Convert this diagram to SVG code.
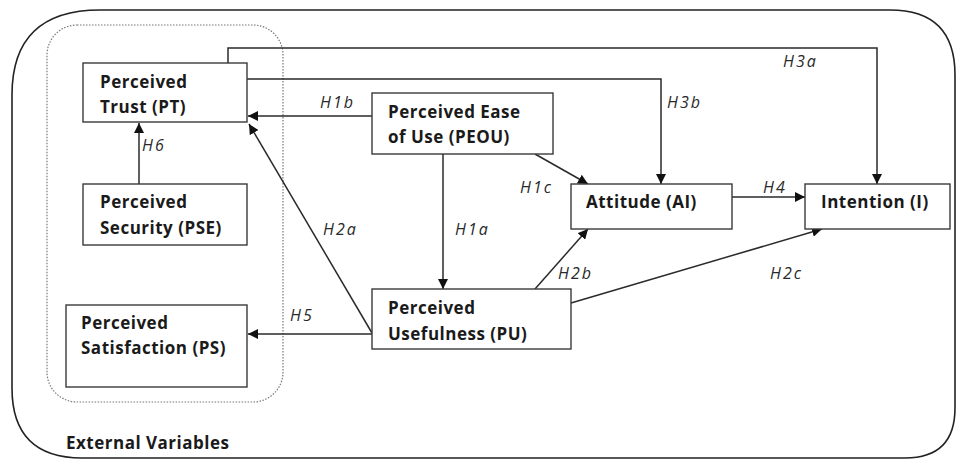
<svg xmlns="http://www.w3.org/2000/svg" width="957" height="460" viewBox="0 0 957 460">
  <style>
    .box { fill: #ffffff; stroke: #3a3a3a; stroke-width: 1.4; }
    .lbl { font-family: "Open Sans", "Liberation Sans", sans-serif; font-weight: bold; font-size: 17px; letter-spacing: 0.5px; fill: #1a1a1a; }
    .hyp { font-family: "Open Sans", "Liberation Sans", sans-serif; font-style: italic; font-size: 16px; letter-spacing: 2px; fill: #2a2a2a; }
    .con { fill: none; stroke: #2a2a2a; stroke-width: 1.5; }
  </style>
  <defs>
    <marker id="arrow" viewBox="0 0 10 10" refX="10" refY="5" markerWidth="10" markerHeight="10" markerUnits="userSpaceOnUse" orient="auto">
      <path d="M0,0 L10,5 L0,10 Z" fill="#111111"/>
    </marker>
  </defs>
  <rect width="957" height="460" fill="#ffffff"/>

  <!-- outer frame: external variables boundary -->
  <path d="M100,10 L890,10 Q955,10 955,75 L955,408 Q955,458 905,458 L82,458 Q12,458 12,388 L12,95 Q12,10 100,10 Z" fill="none" stroke="#222222" stroke-width="1.6"/>
  <!-- dotted grouping of trust-related constructs -->
  <rect x="47" y="25" width="236" height="377" rx="30" ry="30" fill="none" stroke="#777777" stroke-width="1.2" stroke-dasharray="1.5 1.5"/>
  <text class="lbl" x="66" y="449">External Variables</text>

  <g id="connectors">
    <polyline class="con" points="228,63 228,48 877,48 877,184" marker-end="url(#arrow)"/>
    <polyline class="con" points="247,79 661,79 661,184" marker-end="url(#arrow)"/>
    <line class="con" x1="372" y1="116" x2="248" y2="116" marker-end="url(#arrow)"/>
    <line class="con" x1="139" y1="184" x2="139" y2="123" marker-end="url(#arrow)"/>
    <line class="con" x1="372" y1="333" x2="249" y2="124" marker-end="url(#arrow)"/>
    <line class="con" x1="372" y1="334" x2="248" y2="334" marker-end="url(#arrow)"/>
    <line class="con" x1="443" y1="154" x2="443" y2="289" marker-end="url(#arrow)"/>
    <line class="con" x1="535" y1="154" x2="588" y2="184" marker-end="url(#arrow)"/>
    <line class="con" x1="535" y1="289" x2="588" y2="229" marker-end="url(#arrow)"/>
    <line class="con" x1="571" y1="303" x2="822" y2="229" marker-end="url(#arrow)"/>
    <line class="con" x1="732" y1="197" x2="805" y2="197" marker-end="url(#arrow)"/>

    <text class="hyp" x="783" y="67">H3a</text>
    <text class="hyp" x="667" y="108">H3b</text>
    <text class="hyp" x="320" y="108">H1b</text>
    <text class="hyp" x="142" y="151">H6</text>
    <text class="hyp" x="520" y="193">H1c</text>
    <text class="hyp" x="763" y="193">H4</text>
    <text class="hyp" x="323" y="235">H2a</text>
    <text class="hyp" x="455" y="235">H1a</text>
    <text class="hyp" x="558" y="279">H2b</text>
    <text class="hyp" x="770" y="279">H2c</text>
    <text class="hyp" x="290" y="321">H5</text>
  </g>

  <g id="PT">
    <rect class="box" x="83" y="63" width="164" height="59"/>
    <text class="lbl" x="100" y="88">Perceived</text>
    <text class="lbl" x="100" y="113">Trust (PT)</text>
  </g>
  <g id="PSE">
    <rect class="box" x="83" y="184" width="164" height="61"/>
    <text class="lbl" x="100" y="208">Perceived</text>
    <text class="lbl" x="100" y="234">Security (PSE)</text>
  </g>
  <g id="PS">
    <rect class="box" x="66" y="305" width="181" height="82"/>
    <text class="lbl" x="81" y="329">Perceived</text>
    <text class="lbl" x="81" y="354">Satisfaction (PS)</text>
  </g>
  <g id="PEOU">
    <rect class="box" x="372" y="93" width="181" height="61"/>
    <text class="lbl" x="388" y="118">Perceived Ease</text>
    <text class="lbl" x="388" y="143">of Use (PEOU)</text>
  </g>
  <g id="PU">
    <rect class="box" x="372" y="289" width="199" height="60"/>
    <text class="lbl" x="388" y="314">Perceived</text>
    <text class="lbl" x="388" y="340">Usefulness (PU)</text>
  </g>
  <g id="AI">
    <rect class="box" x="571" y="184" width="161" height="45"/>
    <text class="lbl" x="586" y="208">Attitude (AI)</text>
  </g>
  <g id="I">
    <rect class="box" x="805" y="184" width="145" height="45"/>
    <text class="lbl" x="821" y="208">Intention (I)</text>
  </g>
</svg>
